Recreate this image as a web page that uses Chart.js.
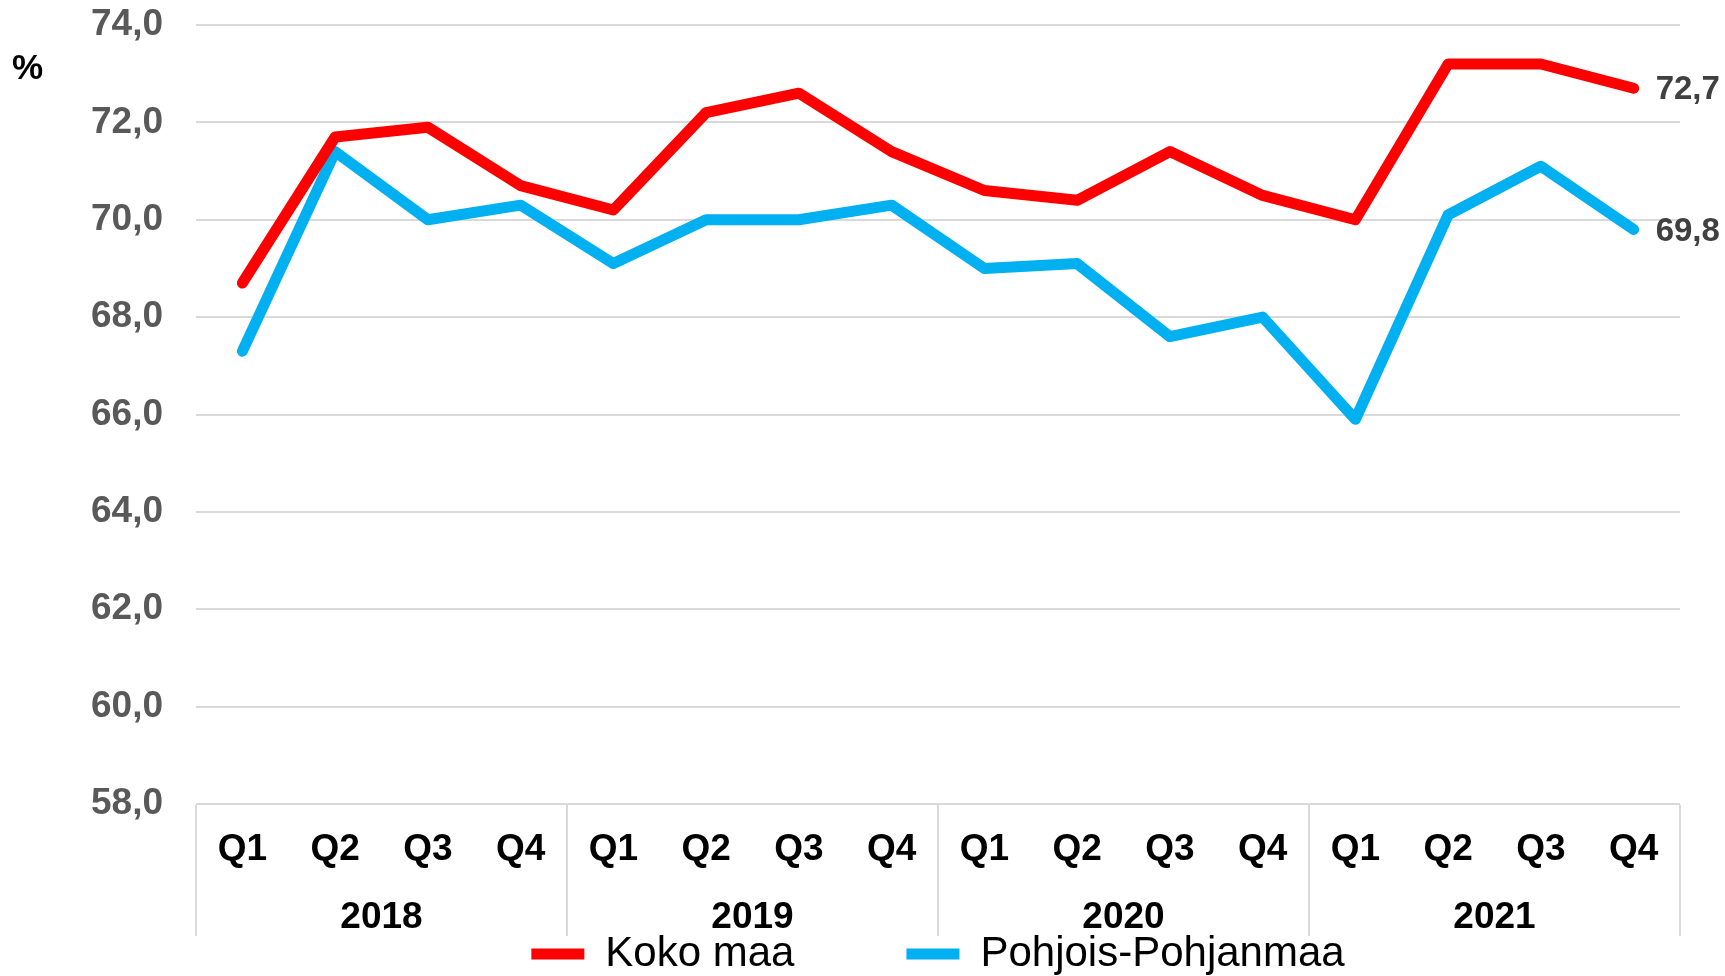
<!DOCTYPE html>
<html>
<head>
<meta charset="utf-8">
<title>Koko maa / Pohjois-Pohjanmaa</title>
<script src="https://cdn.jsdelivr.net/npm/chart.js@4.4.1/dist/chart.umd.min.js"></script>
<style>
    html, body { margin: 0; padding: 0; background: #ffffff; }
    #wrap { position: relative; width: 1725px; height: 976px; }
</style>
</head>
<body>
<div id="wrap"><canvas id="chart"></canvas></div>
<script>
const quarters = ['Q1', 'Q2', 'Q3', 'Q4', 'Q1', 'Q2', 'Q3', 'Q4', 'Q1', 'Q2', 'Q3', 'Q4', 'Q1', 'Q2', 'Q3', 'Q4'];
const years = ['2018', '2019', '2020', '2021'];
const kokoMaa = [68.7, 71.7, 71.9, 70.7, 70.2, 72.2, 72.6, 71.4, 70.6, 70.4, 71.4, 70.5, 70.0, 73.2, 73.2, 72.7];
const pohjoisPohjanmaa = [67.3, 71.4, 70.0, 70.3, 69.1, 70.0, 70.0, 70.3, 69.0, 69.1, 67.6, 68.0, 65.9, 70.1, 71.1, 69.8];
const yMin = 58;
const yMax = 74;
const yStep = 2;

const FONT = '"Liberation Sans", Arial, sans-serif';
const GRID = '#D9D9D9';

function fmt(v) {
    return v.toFixed(1).replace('.', ',');
}

// value label at the last point of each line, and the "%" unit text
const extraText = {
    id: 'extraText',
    afterDatasetsDraw(chart) {
        const ctx = chart.ctx;
        ctx.save();
        ctx.font = 'bold 33px ' + FONT;
        ctx.fillStyle = '#404040';
        ctx.textAlign = 'left';
        ctx.textBaseline = 'middle';
        chart.data.datasets.forEach((ds, i) => {
            const meta = chart.getDatasetMeta(i);
            const last = meta.data[meta.data.length - 1];
            ctx.fillText(fmt(ds.data[ds.data.length - 1]), last.x + 22, last.y + 2);
        });
        ctx.font = 'bold 35px ' + FONT;
        ctx.fillStyle = '#000000';
        ctx.fillText('%', 12, chart.chartArea.top + 44);
        ctx.restore();
    }
};

new Chart(document.getElementById('chart'), {
    type: 'line',
    data: {
        labels: quarters,
        datasets: [
            {
                label: 'Koko maa',
                data: kokoMaa,
                borderColor: '#FF0000',
                backgroundColor: '#FF0000',
                borderWidth: 11,
                borderCapStyle: 'round',
                borderJoinStyle: 'round',
                pointRadius: 0,
                tension: 0
            },
            {
                label: 'Pohjois-Pohjanmaa',
                data: pohjoisPohjanmaa,
                borderColor: '#00B0F0',
                backgroundColor: '#00B0F0',
                borderWidth: 11,
                borderCapStyle: 'round',
                borderJoinStyle: 'round',
                pointRadius: 0,
                tension: 0
            }
        ]
    },
    options: {
        responsive: true,
        maintainAspectRatio: false,
        devicePixelRatio: 1,
        animation: false,
        layout: { padding: { left: 0, right: 45, top: 25, bottom: 0 } },
        plugins: {
            tooltip: { enabled: false },
            legend: {
                position: 'bottom',
                fullSize: false,
                maxHeight: 155,
                labels: {
                    usePointStyle: true,
                    pointStyle: 'line',
                    pointStyleWidth: 53,
                    padding: 112,
                    color: '#000000',
                    font: { family: FONT, size: 42 }
                }
            }
        },
        scales: {
            y: {
                min: yMin,
                max: yMax,
                afterFit: (scale) => { scale.width = 196; },
                ticks: {
                    stepSize: yStep,
                    padding: 0,
                    color: '#595959',
                    font: { family: FONT, size: 37, weight: 'bold' },
                    callback: (v) => fmt(v)
                },
                grid: { color: GRID, lineWidth: 2, drawTicks: true, tickLength: 33, tickColor: 'rgba(0,0,0,0)' },
                border: { display: false }
            },
            x: {
                offset: true,
                weight: 0,
                afterFit: (scale) => { scale.height = 1; },
                ticks: {
                    autoSkip: false,
                    maxRotation: 0,
                    mirror: true,
                    padding: -68,
                    color: '#000000',
                    font: { family: FONT, size: 37, weight: 'bold' }
                },
                grid: { display: false, drawTicks: false },
                border: { display: false }
            },
            x2: {
                type: 'category',
                labels: years,
                position: 'bottom',
                offset: true,
                weight: 1,
                afterFit: (scale) => { scale.height = 16; },
                ticks: {
                    autoSkip: false,
                    maxRotation: 0,
                    mirror: true,
                    padding: -135,
                    color: '#000000',
                    font: { family: FONT, size: 37, weight: 'bold' }
                },
                grid: {
                    offset: true,
                    drawOnChartArea: false,
                    drawTicks: true,
                    tickLength: 131,
                    color: GRID,
                    lineWidth: 2
                },
                border: { display: false }
            }
        }
    },
    plugins: [extraText]
});
</script>
</body>
</html>
